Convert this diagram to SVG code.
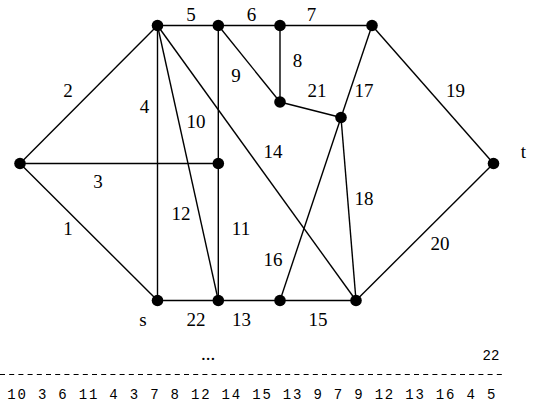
<svg xmlns="http://www.w3.org/2000/svg" width="538" height="405" viewBox="0 0 538 405">
<style>
.e{stroke:#000;stroke-width:1.4;fill:none}
.n{fill:#000}
.l{font-family:"Liberation Serif","Times New Roman",serif;font-size:19px;text-anchor:middle;fill:#000}
.m{font-family:"Liberation Mono","Courier New",monospace;font-size:14px;fill:#000}
</style>
<rect width="538" height="405" fill="#fff"/>
<g id="connectors" class="e">
<line x1="20" y1="163.5" x2="157.5" y2="300.5"/>
<line x1="20" y1="163.5" x2="157.5" y2="25.5"/>
<line x1="20" y1="163.5" x2="218.3" y2="163.5"/>
<line x1="157.5" y1="25.5" x2="157.5" y2="300.5"/>
<line x1="157.5" y1="25.5" x2="372" y2="25.5"/>
<line x1="280" y1="25.5" x2="280" y2="102"/>
<line x1="218.3" y1="25.5" x2="280" y2="102"/>
<line x1="218.3" y1="25.5" x2="218.3" y2="300.5"/>
<line x1="157.5" y1="25.5" x2="218.3" y2="300.5"/>
<line x1="157.5" y1="25.5" x2="356" y2="300.5"/>
<line x1="157.5" y1="300.5" x2="356" y2="300.5"/>
<line x1="280" y1="300.5" x2="341" y2="117.5"/>
<line x1="372" y1="25.5" x2="341" y2="117.5"/>
<line x1="341" y1="117.5" x2="356" y2="300.5"/>
<line x1="372" y1="25.5" x2="493.5" y2="163.5"/>
<line x1="493.5" y1="163.5" x2="356" y2="300.5"/>
<line x1="280" y1="102" x2="341" y2="117.5"/>
</g>
<g id="nodes" class="n">
<g id="nA"><circle cx="157.5" cy="25.5" r="5.8"/></g>
<g id="nB"><circle cx="218.3" cy="25.5" r="5.8"/></g>
<g id="nC"><circle cx="280" cy="25.5" r="5.8"/></g>
<g id="nD"><circle cx="372" cy="25.5" r="5.8"/></g>
<g id="nE"><circle cx="280" cy="102" r="5.8"/></g>
<g id="nF"><circle cx="341" cy="117.5" r="5.8"/></g>
<g id="nL"><circle cx="20" cy="163.5" r="5.8"/></g>
<g id="nM"><circle cx="218.3" cy="163.5" r="5.8"/></g>
<g id="nT"><circle cx="493.5" cy="163.5" r="5.8"/></g>
<g id="nS"><circle cx="157.5" cy="300.5" r="5.8"/></g>
<g id="nN"><circle cx="218.3" cy="300.5" r="5.8"/></g>
<g id="nO"><circle cx="280" cy="300.5" r="5.8"/></g>
<g id="nP"><circle cx="356" cy="300.5" r="5.8"/></g>
</g>
<g id="labels" class="l">
<text x="191" y="21">5</text>
<text x="251.5" y="21">6</text>
<text x="311.5" y="20.5">7</text>
<text x="68" y="97">2</text>
<text x="144.5" y="113">4</text>
<text x="196" y="128">10</text>
<text x="236" y="82">9</text>
<text x="297.5" y="67">8</text>
<text x="317" y="97">21</text>
<text x="364" y="97">17</text>
<text x="455.5" y="97">19</text>
<text x="273" y="158">14</text>
<text x="523.5" y="158">t</text>
<text x="98" y="188">3</text>
<text x="364" y="205">18</text>
<text x="181" y="220">12</text>
<text x="241" y="235">11</text>
<text x="68" y="235">1</text>
<text x="440" y="250">20</text>
<text x="273" y="266">16</text>
<text x="143" y="326">s</text>
<text x="196" y="326">22</text>
<text x="241.5" y="326">13</text>
<text x="318" y="326">15</text>
<text x="208" y="360">...</text>
</g>
<g id="list">
<text class="m" x="491" y="360" text-anchor="middle">22</text>
<line x1="0" y1="374.5" x2="503" y2="374.5" stroke="#000" stroke-width="1" stroke-dasharray="5,4.2"/>
<text class="m" x="7.3" y="398.5" textLength="488" lengthAdjust="spacing" xml:space="preserve">10 3 6 11 4 3 7 8 12 14 15 13 9 7 9 12 13 16 4 5</text>
</g>
</svg>
